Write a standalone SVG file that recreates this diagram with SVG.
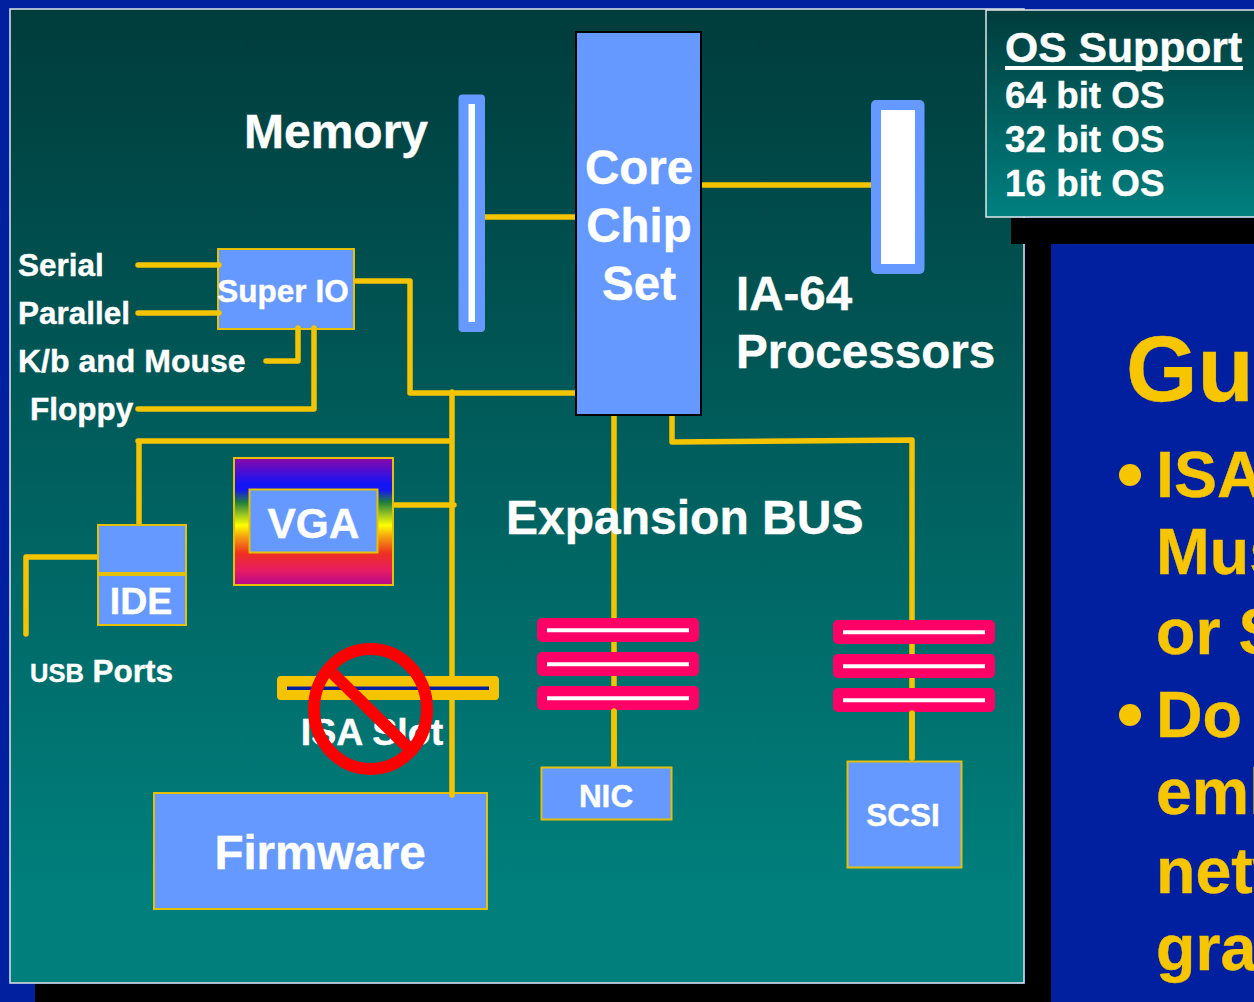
<svg xmlns="http://www.w3.org/2000/svg" width="1254" height="1002" viewBox="0 0 1254 1002">
<defs>
<linearGradient id="panelGrad" x1="0" y1="0" x2="0" y2="1"><stop offset="0" stop-color="#003c3c"/><stop offset="0.9" stop-color="#007f7c"/><stop offset="1" stop-color="#007f7c"/></linearGradient>
<linearGradient id="osGrad" x1="0" y1="0" x2="0" y2="1"><stop offset="0" stop-color="#003c3c"/><stop offset="1" stop-color="#008080"/></linearGradient>
<linearGradient id="rainbow" x1="0" y1="0" x2="0" y2="1">
<stop offset="0" stop-color="#8a08a8"/><stop offset="0.2" stop-color="#1414f5"/><stop offset="0.25" stop-color="#1414f5"/><stop offset="0.35" stop-color="#20803c"/><stop offset="0.45" stop-color="#a0c820"/><stop offset="0.53" stop-color="#ffff00"/><stop offset="0.62" stop-color="#f5a010"/><stop offset="0.75" stop-color="#ee3020"/><stop offset="0.88" stop-color="#e81c60"/><stop offset="1" stop-color="#b8088c"/></linearGradient>
</defs>
<style>
text{font-family:"Liberation Sans",Arial,sans-serif;font-weight:700;fill:#fff;stroke:#fff;stroke-width:.4}
text.y{fill:#f7c600;stroke:#f7c600}
circle.y{fill:#f7c600}
.box{fill:#6699ff;stroke:#e4c008;stroke-width:2}
.wire{fill:none;stroke:#f5c400;stroke-width:5.5;stroke-linecap:round;stroke-linejoin:round}
.pink{fill:#ff0066}
.mid{text-anchor:middle}
</style>
<rect width="1254" height="1002" fill="#00209f"/>
<rect x="35" y="984" width="1016" height="18" fill="#000"/>
<rect x="1025" y="218" width="26" height="784" fill="#000"/>
<rect x="10" y="9" width="1014" height="974" fill="url(#panelGrad)" stroke="#dfe6ea" stroke-width="1.500"/>
<rect x="1011" y="218" width="243" height="26" fill="#000"/>

<g id="super-io"><rect class="box" x="218" y="249" width="136" height="80"/><text x="283" y="302" font-size="31.500" class="mid">Super IO</text></g>
<g id="firmware"><rect class="box" x="154" y="793" width="333" height="116"/><text x="320" y="869" font-size="47.500" class="mid">Firmware</text></g>

<g id="connectors">
<path class="wire" d="M138 265H219M138 313H219M266 361H298V328M138 409H314V328M356 281H410V393H575M452 392V795M138 441H452M139 441V525M394 505H454M98 557H26V634M485 217H575M703 185H871M614 416V768M672 416V442L912 440V758"/>
</g>

<g id="memory"><rect x="458.500" y="94.500" width="26.500" height="237.500" rx="4" fill="#6699ff"/><rect x="468.500" y="104" width="6.500" height="218" fill="#fff"/><text x="244" y="148" font-size="48">Memory</text></g>
<g id="core-chip-set"><rect x="576" y="32" width="125" height="383" fill="#6699ff" stroke="#000" stroke-width="2"/>
<text x="639" y="184" font-size="47.500" class="mid">Core</text><text x="639" y="242" font-size="47.500" class="mid">Chip</text><text x="639" y="300" font-size="47.500" class="mid">Set</text></g>
<g id="ia64"><rect x="871" y="100" width="53.500" height="174" rx="5" fill="#6699ff"/><rect x="881" y="110" width="34" height="154" fill="#fff"/><text x="736" y="310" font-size="47.500">IA-64</text><text x="736" y="368" font-size="47.600">Processors</text></g>
<g id="io-labels"><text x="18" y="276" font-size="31.500">Serial</text><text x="18" y="324" font-size="31.500">Parallel</text><text x="18" y="372" font-size="32">K/b and Mouse</text><text x="30" y="420" font-size="31.500">Floppy</text></g>
<g id="ide"><rect class="box" x="98" y="525" width="88" height="48"/><rect class="box" x="98" y="575" width="88" height="50"/><text x="141" y="614" font-size="37.500" class="mid">IDE</text></g>
<g id="usb"><text x="30" y="682"><tspan font-size="25.500">USB</tspan><tspan font-size="31.500"> Ports</tspan></text></g>
<g id="vga"><rect x="234" y="458" width="159" height="127" fill="url(#rainbow)" stroke="#e4c008" stroke-width="2"/><rect class="box" x="249.500" y="489.500" width="128" height="63"/><text x="313.500" y="538" font-size="42.500" class="mid">VGA</text></g>
<g id="expansion"><text x="506" y="534" font-size="48">Expansion BUS</text></g>
<g id="isa-slot"><rect x="277" y="676" width="222" height="24" rx="4" fill="#f5c400"/><rect x="287" y="686.500" width="202" height="3.500" fill="#00209f"/><text x="372" y="745" font-size="37.500" class="mid">ISA Slot</text>
<ellipse cx="370.500" cy="709" rx="56.500" ry="60" fill="none" stroke="#ff0000" stroke-width="12"/><path d="M332.700 673.300L408.700 748.300" stroke="#ff0000" stroke-width="12" fill="none"/></g>
<g id="nic"><rect class="pink" x="537" y="618" width="162" height="24" rx="5"/><rect class="pink" x="537" y="652" width="162" height="24" rx="5"/><rect class="pink" x="537" y="686" width="162" height="24" rx="5"/>
<path d="M547 630.300H689M547 664.300H689M547 698.300H689" stroke="#fff" stroke-width="4"/>
<path class="wire" d="M614 711V766"/><rect class="box" x="541.500" y="767.500" width="130" height="52"/><text x="606" y="807" font-size="31.500" class="mid">NIC</text></g>
<g id="scsi"><rect class="pink" x="833" y="620" width="162" height="24" rx="5"/><rect class="pink" x="833" y="654" width="162" height="24" rx="5"/><rect class="pink" x="833" y="688" width="162" height="24" rx="5"/>
<path d="M843 632.300H985M843 666.300H985M843 700.300H985" stroke="#fff" stroke-width="4"/>
<path class="wire" d="M912 713V758"/><rect class="box" x="847.500" y="761.500" width="114" height="106"/><text x="903" y="826" font-size="31.500" class="mid">SCSI</text></g>
<g id="os-support"><rect x="986" y="10" width="270" height="207" fill="url(#osGrad)" stroke="#dfe6ea" stroke-width="1.500"/>
<text x="1005" y="62" font-size="42.700">OS Support</text><path d="M1005 68H1243" stroke="#fff" stroke-width="4"/><text x="1005" y="108" font-size="36.800">64 bit OS</text><text x="1005" y="152" font-size="36.800">32 bit OS</text><text x="1005" y="196" font-size="36.800">16 bit OS</text></g>
<g id="slide-text">
<text class="y" x="1126" y="401" font-size="92">Gu</text>
<circle class="y" cx="1130" cy="475" r="11"/>
<text class="y" x="1156" y="497" font-size="64.500">ISA</text><text class="y" x="1156" y="574" font-size="64.500">Mus</text><text class="y" x="1156" y="654" font-size="64.500">or S</text>
<circle class="y" cx="1130" cy="715" r="11"/>
<text class="y" x="1156" y="737" font-size="64.500">Do</text><text class="y" x="1156" y="814" font-size="64.500">eml</text><text class="y" x="1156" y="893" font-size="64.500">netw</text><text class="y" x="1156" y="970" font-size="64.500">gra</text></g>
</svg>
